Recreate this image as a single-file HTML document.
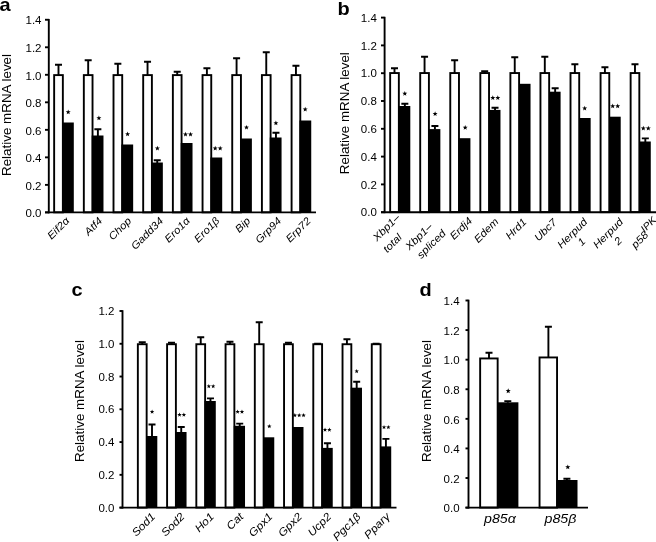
<!DOCTYPE html>
<html><head><meta charset="utf-8"><title>Figure</title>
<style>
html,body{margin:0;padding:0;background:#fff;}
svg{display:block;filter:grayscale(1);font-family:"Liberation Sans",sans-serif;fill:#000;}
</style></head><body>
<svg width="656" height="542" viewBox="0 0 656 542">
<rect width="656" height="542" fill="#fff"/>
<text transform="translate(-0.5,10.7) scale(1.09,1)" font-size="18.3" font-weight="bold">a</text>
<text transform="translate(10.8,176) rotate(-90)" font-size="13.4">Relative mRNA level</text>
<path d="M58.50 75.15 V64.7 M55.00 64.7 H62.00" stroke="#000" stroke-width="1.9" fill="none"/>
<rect x="54.15" y="75.10" width="8.70" height="137.25" fill="#fff" stroke="#000" stroke-width="1.9"/>
<rect x="62.00" y="122.50" width="11.80" height="89.90" fill="#000"/>
<polygon points="68.20,109.50 68.84,111.22 70.67,111.30 69.24,112.44 69.73,114.20 68.20,113.19 66.67,114.20 67.16,112.44 65.73,111.30 67.56,111.22" fill="#000"/>
<path d="M88.18 75.15 V60.199999999999996 M84.68 60.199999999999996 H91.68" stroke="#000" stroke-width="1.9" fill="none"/>
<rect x="83.83" y="75.10" width="8.70" height="137.25" fill="#fff" stroke="#000" stroke-width="1.9"/>
<path d="M97.88 136.0 V129.20000000000002 M94.38 129.20000000000002 H101.38" stroke="#000" stroke-width="1.9" fill="none"/>
<rect x="91.68" y="135.50" width="11.80" height="76.90" fill="#000"/>
<polygon points="98.90,115.50 99.54,117.22 101.37,117.30 99.94,118.44 100.43,120.20 98.90,119.19 97.37,120.20 97.86,118.44 96.43,117.30 98.26,117.22" fill="#000"/>
<path d="M117.86 75.15 V63.699999999999996 M114.36 63.699999999999996 H121.36" stroke="#000" stroke-width="1.9" fill="none"/>
<rect x="113.51" y="75.10" width="8.70" height="137.25" fill="#fff" stroke="#000" stroke-width="1.9"/>
<rect x="121.36" y="144.50" width="11.80" height="67.90" fill="#000"/>
<polygon points="127.60,131.60 128.24,133.32 130.07,133.40 128.64,134.54 129.13,136.30 127.60,135.29 126.07,136.30 126.56,134.54 125.13,133.40 126.96,133.32" fill="#000"/>
<path d="M147.54 75.15 V61.699999999999996 M144.04 61.699999999999996 H151.04" stroke="#000" stroke-width="1.9" fill="none"/>
<rect x="143.19" y="75.10" width="8.70" height="137.25" fill="#fff" stroke="#000" stroke-width="1.9"/>
<path d="M157.24 163.0 V160.3 M153.74 160.3 H160.74" stroke="#000" stroke-width="1.9" fill="none"/>
<rect x="151.04" y="162.50" width="11.80" height="49.90" fill="#000"/>
<polygon points="157.40,145.70 158.04,147.42 159.87,147.50 158.44,148.64 158.93,150.40 157.40,149.39 155.87,150.40 156.36,148.64 154.93,147.50 156.76,147.42" fill="#000"/>
<path d="M177.22 75.15 V71.7 M173.72 71.7 H180.72" stroke="#000" stroke-width="1.9" fill="none"/>
<rect x="172.87" y="75.10" width="8.70" height="137.25" fill="#fff" stroke="#000" stroke-width="1.9"/>
<rect x="180.72" y="143.00" width="11.80" height="69.40" fill="#000"/>
<polygon points="185.50,131.70 186.14,133.42 187.97,133.50 186.54,134.64 187.03,136.40 185.50,135.39 183.97,136.40 184.46,134.64 183.03,133.50 184.86,133.42" fill="#000"/>
<polygon points="190.50,131.70 191.14,133.42 192.97,133.50 191.54,134.64 192.03,136.40 190.50,135.39 188.97,136.40 189.46,134.64 188.03,133.50 189.86,133.42" fill="#000"/>
<path d="M206.90 75.15 V68.2 M203.40 68.2 H210.40" stroke="#000" stroke-width="1.9" fill="none"/>
<rect x="202.55" y="75.10" width="8.70" height="137.25" fill="#fff" stroke="#000" stroke-width="1.9"/>
<rect x="210.40" y="157.50" width="11.80" height="54.90" fill="#000"/>
<polygon points="215.20,145.80 215.84,147.52 217.67,147.60 216.24,148.74 216.73,150.50 215.20,149.49 213.67,150.50 214.16,148.74 212.73,147.60 214.56,147.52" fill="#000"/>
<polygon points="220.20,145.80 220.84,147.52 222.67,147.60 221.24,148.74 221.73,150.50 220.20,149.49 218.67,150.50 219.16,148.74 217.73,147.60 219.56,147.52" fill="#000"/>
<path d="M236.58 75.15 V58.199999999999996 M233.08 58.199999999999996 H240.08" stroke="#000" stroke-width="1.9" fill="none"/>
<rect x="232.23" y="75.10" width="8.70" height="137.25" fill="#fff" stroke="#000" stroke-width="1.9"/>
<rect x="240.08" y="138.50" width="11.80" height="73.90" fill="#000"/>
<polygon points="246.50,124.90 247.14,126.62 248.97,126.70 247.54,127.84 248.03,129.60 246.50,128.59 244.97,129.60 245.46,127.84 244.03,126.70 245.86,126.62" fill="#000"/>
<path d="M266.26 75.15 V52.199999999999996 M262.76 52.199999999999996 H269.76" stroke="#000" stroke-width="1.9" fill="none"/>
<rect x="261.91" y="75.10" width="8.70" height="137.25" fill="#fff" stroke="#000" stroke-width="1.9"/>
<path d="M275.96 138.0 V132.8 M272.46 132.8 H279.46" stroke="#000" stroke-width="1.9" fill="none"/>
<rect x="269.76" y="137.50" width="11.80" height="74.90" fill="#000"/>
<polygon points="275.90,120.60 276.54,122.32 278.37,122.40 276.94,123.54 277.43,125.30 275.90,124.29 274.37,125.30 274.86,123.54 273.43,122.40 275.26,122.32" fill="#000"/>
<path d="M295.94 75.15 V65.7 M292.44 65.7 H299.44" stroke="#000" stroke-width="1.9" fill="none"/>
<rect x="291.59" y="75.10" width="8.70" height="137.25" fill="#fff" stroke="#000" stroke-width="1.9"/>
<rect x="299.44" y="120.50" width="11.80" height="91.90" fill="#000"/>
<polygon points="305.20,106.80 305.84,108.52 307.67,108.60 306.24,109.74 306.73,111.50 305.20,110.49 303.67,111.50 304.16,109.74 302.73,108.60 304.56,108.52" fill="#000"/>
<path d="M48.8 18.95 V213.35" stroke="#000" stroke-width="1.9" fill="none"/>
<path d="M45 212.4 H316" stroke="#000" stroke-width="1.9" fill="none"/>
<path d="M45 212.40 H48.8" stroke="#000" stroke-width="1.9" fill="none"/>
<text transform="translate(41.5,217.10) scale(1.12,1)" font-size="10.3" text-anchor="end">0.0</text>
<path d="M45 184.88 H48.8" stroke="#000" stroke-width="1.9" fill="none"/>
<text transform="translate(41.5,189.58) scale(1.12,1)" font-size="10.3" text-anchor="end">0.2</text>
<path d="M45 157.36 H48.8" stroke="#000" stroke-width="1.9" fill="none"/>
<text transform="translate(41.5,162.06) scale(1.12,1)" font-size="10.3" text-anchor="end">0.4</text>
<path d="M45 129.84 H48.8" stroke="#000" stroke-width="1.9" fill="none"/>
<text transform="translate(41.5,134.54) scale(1.12,1)" font-size="10.3" text-anchor="end">0.6</text>
<path d="M45 102.32 H48.8" stroke="#000" stroke-width="1.9" fill="none"/>
<text transform="translate(41.5,107.02) scale(1.12,1)" font-size="10.3" text-anchor="end">0.8</text>
<path d="M45 74.80 H48.8" stroke="#000" stroke-width="1.9" fill="none"/>
<text transform="translate(41.5,79.50) scale(1.12,1)" font-size="10.3" text-anchor="end">1.0</text>
<path d="M45 47.28 H48.8" stroke="#000" stroke-width="1.9" fill="none"/>
<text transform="translate(41.5,51.98) scale(1.12,1)" font-size="10.3" text-anchor="end">1.2</text>
<path d="M45 19.76 H48.8" stroke="#000" stroke-width="1.9" fill="none"/>
<text transform="translate(41.5,24.46) scale(1.12,1)" font-size="10.3" text-anchor="end">1.4</text>
<text transform="translate(70.00,221.50) rotate(-45) scale(1.1,1)" font-size="10.4" font-style="italic" text-anchor="end">Eif2α</text>
<text transform="translate(103.00,221.50) rotate(-45) scale(1.1,1)" font-size="10.4" font-style="italic" text-anchor="end">Atf4</text>
<text transform="translate(132.00,221.50) rotate(-45) scale(1.1,1)" font-size="10.4" font-style="italic" text-anchor="end">Chop</text>
<text transform="translate(164.00,221.50) rotate(-45) scale(1.1,1)" font-size="10.4" font-style="italic" text-anchor="end">Gadd34</text>
<text transform="translate(190.50,221.50) rotate(-45) scale(1.1,1)" font-size="10.4" font-style="italic" text-anchor="end">Ero1α</text>
<text transform="translate(220.00,221.50) rotate(-45) scale(1.1,1)" font-size="10.4" font-style="italic" text-anchor="end">Ero1β</text>
<text transform="translate(251.00,221.50) rotate(-45) scale(1.1,1)" font-size="10.4" font-style="italic" text-anchor="end">Bip</text>
<text transform="translate(282.00,221.50) rotate(-45) scale(1.1,1)" font-size="10.4" font-style="italic" text-anchor="end">Grp94</text>
<text transform="translate(311.50,221.50) rotate(-45) scale(1.1,1)" font-size="10.4" font-style="italic" text-anchor="end">Erp72</text>
<text transform="translate(337.4,14.9) scale(1.09,1)" font-size="18.3" font-weight="bold">b</text>
<text transform="translate(349.3,174.2) rotate(-90)" font-size="13.4">Relative mRNA level</text>
<path d="M394.50 73.1 V68.2 M391.00 68.2 H398.00" stroke="#000" stroke-width="1.9" fill="none"/>
<rect x="390.15" y="73.05" width="8.70" height="139.10" fill="#fff" stroke="#000" stroke-width="1.9"/>
<path d="M404.85 106.5 V103.8 M401.35 103.8 H408.35" stroke="#000" stroke-width="1.9" fill="none"/>
<rect x="398.80" y="106.00" width="11.50" height="106.20" fill="#000"/>
<polygon points="404.80,91.00 405.44,92.72 407.27,92.80 405.84,93.94 406.33,95.70 404.80,94.69 403.27,95.70 403.76,93.94 402.33,92.80 404.16,92.72" fill="#000"/>
<path d="M424.56 73.1 V56.699999999999996 M421.06 56.699999999999996 H428.06" stroke="#000" stroke-width="1.9" fill="none"/>
<rect x="420.21" y="73.05" width="8.70" height="139.10" fill="#fff" stroke="#000" stroke-width="1.9"/>
<path d="M434.91 129.6 V126.0 M431.41 126.0 H438.41" stroke="#000" stroke-width="1.9" fill="none"/>
<rect x="428.86" y="129.10" width="11.50" height="83.10" fill="#000"/>
<polygon points="435.10,111.30 435.74,113.02 437.57,113.10 436.14,114.24 436.63,116.00 435.10,114.99 433.57,116.00 434.06,114.24 432.63,113.10 434.46,113.02" fill="#000"/>
<path d="M454.62 73.1 V60.199999999999996 M451.12 60.199999999999996 H458.12" stroke="#000" stroke-width="1.9" fill="none"/>
<rect x="450.27" y="73.05" width="8.70" height="139.10" fill="#fff" stroke="#000" stroke-width="1.9"/>
<rect x="458.92" y="138.20" width="11.50" height="74.00" fill="#000"/>
<polygon points="465.20,125.00 465.84,126.72 467.67,126.80 466.24,127.94 466.73,129.70 465.20,128.69 463.67,129.70 464.16,127.94 462.73,126.80 464.56,126.72" fill="#000"/>
<path d="M484.68 73.1 V71.2 M481.18 71.2 H488.18" stroke="#000" stroke-width="1.9" fill="none"/>
<rect x="480.33" y="73.05" width="8.70" height="139.10" fill="#fff" stroke="#000" stroke-width="1.9"/>
<path d="M495.03 110.4 V107.7 M491.53 107.7 H498.53" stroke="#000" stroke-width="1.9" fill="none"/>
<rect x="488.98" y="109.90" width="11.50" height="102.30" fill="#000"/>
<polygon points="492.80,95.30 493.44,97.02 495.27,97.10 493.84,98.24 494.33,100.00 492.80,98.99 491.27,100.00 491.76,98.24 490.33,97.10 492.16,97.02" fill="#000"/>
<polygon points="497.80,95.30 498.44,97.02 500.27,97.10 498.84,98.24 499.33,100.00 497.80,98.99 496.27,100.00 496.76,98.24 495.33,97.10 497.16,97.02" fill="#000"/>
<path d="M514.74 73.1 V57.199999999999996 M511.24 57.199999999999996 H518.24" stroke="#000" stroke-width="1.9" fill="none"/>
<rect x="510.39" y="73.05" width="8.70" height="139.10" fill="#fff" stroke="#000" stroke-width="1.9"/>
<rect x="519.04" y="83.80" width="11.50" height="128.40" fill="#000"/>
<path d="M544.80 73.1 V56.699999999999996 M541.30 56.699999999999996 H548.30" stroke="#000" stroke-width="1.9" fill="none"/>
<rect x="540.45" y="73.05" width="8.70" height="139.10" fill="#fff" stroke="#000" stroke-width="1.9"/>
<path d="M555.15 92.2 V88.3 M551.65 88.3 H558.65" stroke="#000" stroke-width="1.9" fill="none"/>
<rect x="549.10" y="91.70" width="11.50" height="120.50" fill="#000"/>
<path d="M574.86 73.1 V64.2 M571.36 64.2 H578.36" stroke="#000" stroke-width="1.9" fill="none"/>
<rect x="570.51" y="73.05" width="8.70" height="139.10" fill="#fff" stroke="#000" stroke-width="1.9"/>
<rect x="579.16" y="118.00" width="11.50" height="94.20" fill="#000"/>
<polygon points="584.70,105.80 585.34,107.52 587.17,107.60 585.74,108.74 586.23,110.50 584.70,109.49 583.17,110.50 583.66,108.74 582.23,107.60 584.06,107.52" fill="#000"/>
<path d="M604.92 73.1 V67.2 M601.42 67.2 H608.42" stroke="#000" stroke-width="1.9" fill="none"/>
<rect x="600.57" y="73.05" width="8.70" height="139.10" fill="#fff" stroke="#000" stroke-width="1.9"/>
<rect x="609.22" y="116.70" width="11.50" height="95.50" fill="#000"/>
<polygon points="612.70,103.60 613.34,105.32 615.17,105.40 613.74,106.54 614.23,108.30 612.70,107.29 611.17,108.30 611.66,106.54 610.23,105.40 612.06,105.32" fill="#000"/>
<polygon points="617.70,103.60 618.34,105.32 620.17,105.40 618.74,106.54 619.23,108.30 617.70,107.29 616.17,108.30 616.66,106.54 615.23,105.40 617.06,105.32" fill="#000"/>
<path d="M634.98 73.1 V64.2 M631.48 64.2 H638.48" stroke="#000" stroke-width="1.9" fill="none"/>
<rect x="630.63" y="73.05" width="8.70" height="139.10" fill="#fff" stroke="#000" stroke-width="1.9"/>
<path d="M645.33 142.0 V138.4 M641.83 138.4 H648.83" stroke="#000" stroke-width="1.9" fill="none"/>
<rect x="639.28" y="141.50" width="11.50" height="70.70" fill="#000"/>
<polygon points="643.30,125.80 643.94,127.52 645.77,127.60 644.34,128.74 644.83,130.50 643.30,129.49 641.77,130.50 642.26,128.74 640.83,127.60 642.66,127.52" fill="#000"/>
<polygon points="648.30,125.80 648.94,127.52 650.77,127.60 649.34,128.74 649.83,130.50 648.30,129.49 646.77,130.50 647.26,128.74 645.83,127.60 647.66,127.52" fill="#000"/>
<path d="M384.6 16.80 V213.14999999999998" stroke="#000" stroke-width="1.9" fill="none"/>
<path d="M381 212.2 H656" stroke="#000" stroke-width="1.9" fill="none"/>
<path d="M381 212.20 H384.6" stroke="#000" stroke-width="1.9" fill="none"/>
<text transform="translate(376.8,216.40) scale(1.12,1)" font-size="10.3" text-anchor="end">0.0</text>
<path d="M381 184.40 H384.6" stroke="#000" stroke-width="1.9" fill="none"/>
<text transform="translate(376.8,188.60) scale(1.12,1)" font-size="10.3" text-anchor="end">0.2</text>
<path d="M381 156.60 H384.6" stroke="#000" stroke-width="1.9" fill="none"/>
<text transform="translate(376.8,160.80) scale(1.12,1)" font-size="10.3" text-anchor="end">0.4</text>
<path d="M381 128.80 H384.6" stroke="#000" stroke-width="1.9" fill="none"/>
<text transform="translate(376.8,133.00) scale(1.12,1)" font-size="10.3" text-anchor="end">0.6</text>
<path d="M381 101.00 H384.6" stroke="#000" stroke-width="1.9" fill="none"/>
<text transform="translate(376.8,105.20) scale(1.12,1)" font-size="10.3" text-anchor="end">0.8</text>
<path d="M381 73.20 H384.6" stroke="#000" stroke-width="1.9" fill="none"/>
<text transform="translate(376.8,77.40) scale(1.12,1)" font-size="10.3" text-anchor="end">1.0</text>
<path d="M381 45.40 H384.6" stroke="#000" stroke-width="1.9" fill="none"/>
<text transform="translate(376.8,49.60) scale(1.12,1)" font-size="10.3" text-anchor="end">1.2</text>
<path d="M381 17.60 H384.6" stroke="#000" stroke-width="1.9" fill="none"/>
<text transform="translate(376.8,21.80) scale(1.12,1)" font-size="10.3" text-anchor="end">1.4</text>
<text transform="translate(400.40,218.30) rotate(-45) scale(1.1,1)" font-size="10.4" font-style="italic" text-anchor="end">Xbp1–</text>
<text transform="translate(402.50,237.90) rotate(-45) scale(1.1,1)" font-size="10.4" font-style="italic" text-anchor="end">total</text>
<text transform="translate(432.90,227.20) rotate(-45) scale(1.1,1)" font-size="10.4" font-style="italic" text-anchor="end">Xbp1–</text>
<text transform="translate(446.40,234.00) rotate(-45) scale(1.1,1)" font-size="10.4" font-style="italic" text-anchor="end">spliced</text>
<text transform="translate(472.90,221.50) rotate(-45) scale(1.1,1)" font-size="10.4" font-style="italic" text-anchor="end">Erdj4</text>
<text transform="translate(499.30,222.30) rotate(-45) scale(1.1,1)" font-size="10.4" font-style="italic" text-anchor="end">Edem</text>
<text transform="translate(527.30,222.50) rotate(-45) scale(1.1,1)" font-size="10.4" font-style="italic" text-anchor="end">Hrd1</text>
<text transform="translate(557.40,223.00) rotate(-45) scale(1.1,1)" font-size="10.4" font-style="italic" text-anchor="end">Ubc7</text>
<text transform="translate(587.90,222.50) rotate(-45) scale(1.1,1)" font-size="10.4" font-style="italic" text-anchor="end">Herpud</text>
<text transform="translate(586.20,242.00) rotate(-45) scale(1.1,1)" font-size="10.4" font-style="italic" text-anchor="end">1</text>
<text transform="translate(623.70,222.50) rotate(-45) scale(1.1,1)" font-size="10.4" font-style="italic" text-anchor="end">Herpud</text>
<text transform="translate(622.80,241.20) rotate(-45) scale(1.1,1)" font-size="10.4" font-style="italic" text-anchor="end">2</text>
<text transform="translate(660.40,224.10) rotate(-45) scale(1.1,1)" font-size="10.4" font-style="italic" text-anchor="end">p58<tspan font-size="9.8" dy="-5" dx="-1.2">IPK</tspan></text>
<text transform="translate(71.5,295.5) scale(1.09,1)" font-size="18.3" font-weight="bold">c</text>
<text transform="translate(84.3,462) rotate(-90)" font-size="13.4">Relative mRNA level</text>
<path d="M142.25 344.26666666666665 V342.2 M138.75 342.2 H145.75" stroke="#000" stroke-width="1.9" fill="none"/>
<rect x="137.85" y="344.22" width="8.80" height="163.33" fill="#fff" stroke="#000" stroke-width="1.9"/>
<path d="M152.00 436.5 V424.5 M148.50 424.5 H155.50" stroke="#000" stroke-width="1.9" fill="none"/>
<rect x="146.10" y="436.00" width="11.20" height="71.60" fill="#000"/>
<polygon points="152.10,409.60 152.67,411.12 154.29,411.19 153.02,412.20 153.45,413.76 152.10,412.87 150.75,413.76 151.18,412.20 149.91,411.19 151.53,411.12" fill="#000"/>
<path d="M171.49 344.26666666666665 V342.7 M167.99 342.7 H174.99" stroke="#000" stroke-width="1.9" fill="none"/>
<rect x="167.09" y="344.22" width="8.80" height="163.33" fill="#fff" stroke="#000" stroke-width="1.9"/>
<path d="M181.24 432.5 V427.0 M177.74 427.0 H184.74" stroke="#000" stroke-width="1.9" fill="none"/>
<rect x="175.34" y="432.00" width="11.20" height="75.60" fill="#000"/>
<polygon points="179.52,412.60 180.09,414.12 181.71,414.19 180.44,415.20 180.88,416.76 179.52,415.87 178.17,416.76 178.61,415.20 177.34,414.19 178.96,414.12" fill="#000"/>
<polygon points="183.88,412.60 184.44,414.12 186.06,414.19 184.79,415.20 185.23,416.76 183.88,415.87 182.52,416.76 182.96,415.20 181.69,414.19 183.31,414.12" fill="#000"/>
<path d="M200.73 344.26666666666665 V337.2 M197.23 337.2 H204.23" stroke="#000" stroke-width="1.9" fill="none"/>
<rect x="196.33" y="344.22" width="8.80" height="163.33" fill="#fff" stroke="#000" stroke-width="1.9"/>
<path d="M210.48 401.5 V398.40000000000003 M206.98 398.40000000000003 H213.98" stroke="#000" stroke-width="1.9" fill="none"/>
<rect x="204.58" y="401.00" width="11.20" height="106.60" fill="#000"/>
<polygon points="208.82,384.00 209.39,385.52 211.01,385.59 209.74,386.60 210.18,388.16 208.82,387.27 207.47,388.16 207.91,386.60 206.64,385.59 208.26,385.52" fill="#000"/>
<polygon points="213.18,384.00 213.74,385.52 215.36,385.59 214.09,386.60 214.53,388.16 213.18,387.27 211.82,388.16 212.26,386.60 210.99,385.59 212.61,385.52" fill="#000"/>
<path d="M229.97 344.26666666666665 V341.7 M226.47 341.7 H233.47" stroke="#000" stroke-width="1.9" fill="none"/>
<rect x="225.57" y="344.22" width="8.80" height="163.33" fill="#fff" stroke="#000" stroke-width="1.9"/>
<path d="M239.72 426.3 V423.6 M236.22 423.6 H243.22" stroke="#000" stroke-width="1.9" fill="none"/>
<rect x="233.82" y="425.80" width="11.20" height="81.80" fill="#000"/>
<polygon points="237.62,409.60 238.19,411.12 239.81,411.19 238.54,412.20 238.98,413.76 237.62,412.87 236.27,413.76 236.71,412.20 235.44,411.19 237.06,411.12" fill="#000"/>
<polygon points="241.98,409.60 242.54,411.12 244.16,411.19 242.89,412.20 243.33,413.76 241.98,412.87 240.62,413.76 241.06,412.20 239.79,411.19 241.41,411.12" fill="#000"/>
<path d="M259.21 344.26666666666665 V322.2 M255.71 322.2 H262.71" stroke="#000" stroke-width="1.9" fill="none"/>
<rect x="254.81" y="344.22" width="8.80" height="163.33" fill="#fff" stroke="#000" stroke-width="1.9"/>
<rect x="263.06" y="437.30" width="11.20" height="70.30" fill="#000"/>
<polygon points="269.30,424.10 269.87,425.62 271.49,425.69 270.22,426.70 270.65,428.26 269.30,427.37 267.95,428.26 268.38,426.70 267.11,425.69 268.73,425.62" fill="#000"/>
<path d="M288.45 344.26666666666665 V342.7 M284.95 342.7 H291.95" stroke="#000" stroke-width="1.9" fill="none"/>
<rect x="284.05" y="344.22" width="8.80" height="163.33" fill="#fff" stroke="#000" stroke-width="1.9"/>
<rect x="292.30" y="427.00" width="11.20" height="80.60" fill="#000"/>
<polygon points="294.85,413.10 295.42,414.62 297.04,414.69 295.77,415.70 296.20,417.26 294.85,416.37 293.50,417.26 293.93,415.70 292.66,414.69 294.28,414.62" fill="#000"/>
<polygon points="299.20,413.10 299.77,414.62 301.39,414.69 300.12,415.70 300.55,417.26 299.20,416.37 297.85,417.26 298.28,415.70 297.01,414.69 298.63,414.62" fill="#000"/>
<polygon points="303.55,413.10 304.12,414.62 305.74,414.69 304.47,415.70 304.90,417.26 303.55,416.37 302.20,417.26 302.63,415.70 301.36,414.69 302.98,414.62" fill="#000"/>
<path d="M317.69 344.26666666666665 V343.8 M314.19 343.8 H321.19" stroke="#000" stroke-width="1.9" fill="none"/>
<rect x="313.29" y="344.22" width="8.80" height="163.33" fill="#fff" stroke="#000" stroke-width="1.9"/>
<path d="M327.44 448.4 V443.2 M323.94 443.2 H330.94" stroke="#000" stroke-width="1.9" fill="none"/>
<rect x="321.54" y="447.90" width="11.20" height="59.70" fill="#000"/>
<polygon points="325.02,427.50 325.59,429.02 327.21,429.09 325.94,430.10 326.38,431.66 325.02,430.77 323.67,431.66 324.11,430.10 322.84,429.09 324.46,429.02" fill="#000"/>
<polygon points="329.38,427.50 329.94,429.02 331.56,429.09 330.29,430.10 330.73,431.66 329.38,430.77 328.02,431.66 328.46,430.10 327.19,429.09 328.81,429.02" fill="#000"/>
<path d="M346.93 344.26666666666665 V339.2 M343.43 339.2 H350.43" stroke="#000" stroke-width="1.9" fill="none"/>
<rect x="342.53" y="344.22" width="8.80" height="163.33" fill="#fff" stroke="#000" stroke-width="1.9"/>
<path d="M356.68 388.2 V381.7 M353.18 381.7 H360.18" stroke="#000" stroke-width="1.9" fill="none"/>
<rect x="350.78" y="387.70" width="11.20" height="119.90" fill="#000"/>
<polygon points="356.70,369.00 357.27,370.52 358.89,370.59 357.62,371.60 358.05,373.16 356.70,372.27 355.35,373.16 355.78,371.60 354.51,370.59 356.13,370.52" fill="#000"/>
<path d="M376.17 344.26666666666665 V343.8 M372.67 343.8 H379.67" stroke="#000" stroke-width="1.9" fill="none"/>
<rect x="371.77" y="344.22" width="8.80" height="163.33" fill="#fff" stroke="#000" stroke-width="1.9"/>
<path d="M385.92 446.9 V438.90000000000003 M382.42 438.90000000000003 H389.42" stroke="#000" stroke-width="1.9" fill="none"/>
<rect x="380.02" y="446.40" width="11.20" height="61.20" fill="#000"/>
<polygon points="384.02,424.90 384.59,426.42 386.21,426.49 384.94,427.50 385.38,429.06 384.02,428.17 382.67,429.06 383.11,427.50 381.84,426.49 383.46,426.42" fill="#000"/>
<polygon points="388.38,424.90 388.94,426.42 390.56,426.49 389.29,427.50 389.73,429.06 388.38,428.17 387.02,429.06 387.46,427.50 386.19,426.49 387.81,426.42" fill="#000"/>
<path d="M122.5 310.20 V508.55" stroke="#000" stroke-width="1.9" fill="none"/>
<path d="M119.5 507.6 H396.5" stroke="#000" stroke-width="1.9" fill="none"/>
<path d="M119.5 507.60 H122.5" stroke="#000" stroke-width="1.9" fill="none"/>
<text transform="translate(114.4,511.70) scale(1.12,1)" font-size="10.3" text-anchor="end">0.0</text>
<path d="M119.5 474.83 H122.5" stroke="#000" stroke-width="1.9" fill="none"/>
<text transform="translate(114.4,478.93) scale(1.12,1)" font-size="10.3" text-anchor="end">0.2</text>
<path d="M119.5 442.07 H122.5" stroke="#000" stroke-width="1.9" fill="none"/>
<text transform="translate(114.4,446.17) scale(1.12,1)" font-size="10.3" text-anchor="end">0.4</text>
<path d="M119.5 409.30 H122.5" stroke="#000" stroke-width="1.9" fill="none"/>
<text transform="translate(114.4,413.40) scale(1.12,1)" font-size="10.3" text-anchor="end">0.6</text>
<path d="M119.5 376.53 H122.5" stroke="#000" stroke-width="1.9" fill="none"/>
<text transform="translate(114.4,380.63) scale(1.12,1)" font-size="10.3" text-anchor="end">0.8</text>
<path d="M119.5 343.77 H122.5" stroke="#000" stroke-width="1.9" fill="none"/>
<text transform="translate(114.4,347.87) scale(1.12,1)" font-size="10.3" text-anchor="end">1.0</text>
<path d="M119.5 311.00 H122.5" stroke="#000" stroke-width="1.9" fill="none"/>
<text transform="translate(114.4,315.10) scale(1.12,1)" font-size="10.3" text-anchor="end">1.2</text>
<text transform="translate(156.00,517.30) rotate(-45) scale(1.1,1)" font-size="10.9" font-style="italic" text-anchor="end">Sod1</text>
<text transform="translate(185.33,517.30) rotate(-45) scale(1.1,1)" font-size="10.9" font-style="italic" text-anchor="end">Sod2</text>
<text transform="translate(214.66,517.30) rotate(-45) scale(1.1,1)" font-size="10.9" font-style="italic" text-anchor="end">Ho1</text>
<text transform="translate(243.99,517.30) rotate(-45) scale(1.1,1)" font-size="10.9" font-style="italic" text-anchor="end">Cat</text>
<text transform="translate(273.32,517.30) rotate(-45) scale(1.1,1)" font-size="10.9" font-style="italic" text-anchor="end">Gpx1</text>
<text transform="translate(302.65,517.30) rotate(-45) scale(1.1,1)" font-size="10.9" font-style="italic" text-anchor="end">Gpx2</text>
<text transform="translate(331.98,517.30) rotate(-45) scale(1.1,1)" font-size="10.9" font-style="italic" text-anchor="end">Ucp2</text>
<text transform="translate(361.31,517.30) rotate(-45) scale(1.1,1)" font-size="10.9" font-style="italic" text-anchor="end">Pgc1β</text>
<text transform="translate(390.64,517.30) rotate(-45) scale(1.1,1)" font-size="10.9" font-style="italic" text-anchor="end">Pparγ</text>
<text transform="translate(419.4,295.8) scale(1.09,1)" font-size="18.3" font-weight="bold">d</text>
<text transform="translate(431.3,462) rotate(-90)" font-size="13.4">Relative mRNA level</text>
<path d="M489.00 358.5 V352.8 M485.50 352.8 H492.50" stroke="#000" stroke-width="1.9" fill="none"/>
<rect x="480.15" y="358.45" width="17.50" height="149.10" fill="#fff" stroke="#000" stroke-width="1.9"/>
<path d="M507.80 402.8 V401.1 M504.30 401.1 H511.30" stroke="#000" stroke-width="1.9" fill="none"/>
<rect x="497.20" y="402.30" width="21.20" height="105.30" fill="#000"/>
<polygon points="508.20,388.30 508.87,390.08 510.77,390.17 509.28,391.35 509.79,393.18 508.20,392.13 506.61,393.18 507.12,391.35 505.63,390.17 507.53,390.08" fill="#000"/>
<path d="M548.40 357.5 V326.8 M544.90 326.8 H551.90" stroke="#000" stroke-width="1.9" fill="none"/>
<rect x="539.55" y="357.45" width="17.50" height="150.10" fill="#fff" stroke="#000" stroke-width="1.9"/>
<path d="M566.90 480.5 V478.8 M563.40 478.8 H570.40" stroke="#000" stroke-width="1.9" fill="none"/>
<rect x="556.30" y="480.00" width="21.20" height="27.60" fill="#000"/>
<polygon points="567.80,464.40 568.47,466.18 570.37,466.27 568.88,467.45 569.39,469.28 567.80,468.23 566.21,469.28 566.72,467.45 565.23,466.27 567.13,466.18" fill="#000"/>
<path d="M468.5 299.70 V508.55" stroke="#000" stroke-width="1.9" fill="none"/>
<path d="M465.5 507.6 H588" stroke="#000" stroke-width="1.9" fill="none"/>
<path d="M465.5 507.60 H468.5" stroke="#000" stroke-width="1.9" fill="none"/>
<text transform="translate(459.6,512.30) scale(1.12,1)" font-size="10.3" text-anchor="end">0.0</text>
<path d="M465.5 478.01 H468.5" stroke="#000" stroke-width="1.9" fill="none"/>
<text transform="translate(459.6,482.71) scale(1.12,1)" font-size="10.3" text-anchor="end">0.2</text>
<path d="M465.5 448.43 H468.5" stroke="#000" stroke-width="1.9" fill="none"/>
<text transform="translate(459.6,453.13) scale(1.12,1)" font-size="10.3" text-anchor="end">0.4</text>
<path d="M465.5 418.84 H468.5" stroke="#000" stroke-width="1.9" fill="none"/>
<text transform="translate(459.6,423.54) scale(1.12,1)" font-size="10.3" text-anchor="end">0.6</text>
<path d="M465.5 389.26 H468.5" stroke="#000" stroke-width="1.9" fill="none"/>
<text transform="translate(459.6,393.96) scale(1.12,1)" font-size="10.3" text-anchor="end">0.8</text>
<path d="M465.5 359.67 H468.5" stroke="#000" stroke-width="1.9" fill="none"/>
<text transform="translate(459.6,364.37) scale(1.12,1)" font-size="10.3" text-anchor="end">1.0</text>
<path d="M465.5 330.09 H468.5" stroke="#000" stroke-width="1.9" fill="none"/>
<text transform="translate(459.6,334.79) scale(1.12,1)" font-size="10.3" text-anchor="end">1.2</text>
<path d="M465.5 300.50 H468.5" stroke="#000" stroke-width="1.9" fill="none"/>
<text transform="translate(459.6,305.20) scale(1.12,1)" font-size="10.3" text-anchor="end">1.4</text>
<text transform="translate(484,523) scale(1.12,1)" font-size="12.7" font-style="italic">p85α</text>
<text transform="translate(544.5,523) scale(1.12,1)" font-size="12.7" font-style="italic">p85β</text>
</svg>
</body></html>
